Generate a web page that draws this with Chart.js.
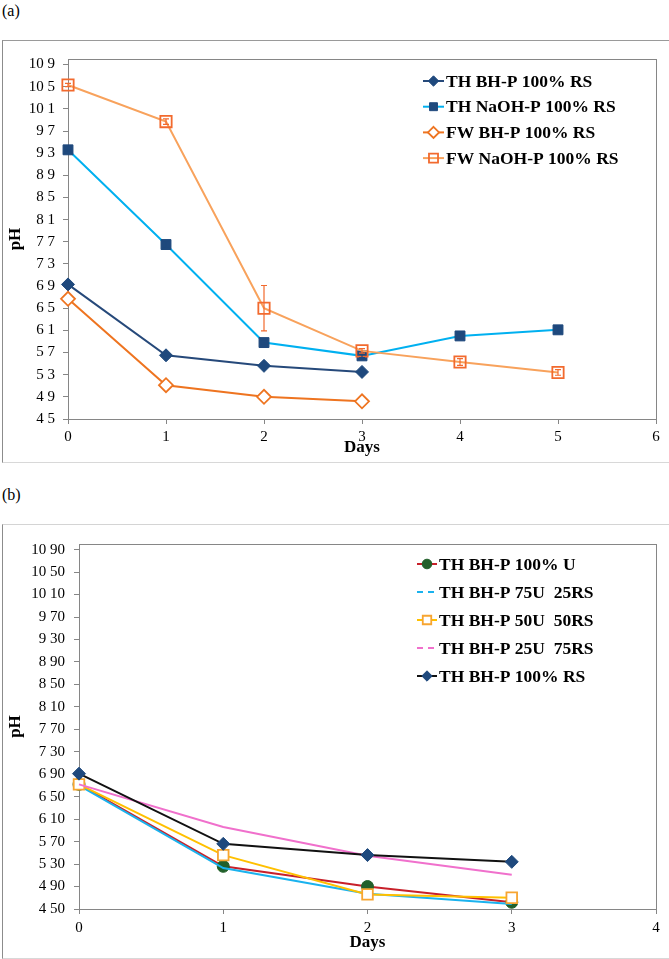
<!DOCTYPE html>
<html>
<head>
<meta charset="utf-8">
<script src="https://cdn.jsdelivr.net/npm/chart.js@4.4.0/dist/chart.umd.min.js"></script>
<style>
  html, body { margin: 0; padding: 0; background: #fff; width: 669px; height: 959px; overflow: hidden; }
  .tag { position: absolute; left: 2px; font: 16px 'Liberation Serif', 'Times New Roman', serif; color: #000; }
  .frame { position: absolute; left: 2px; width: 700px; box-sizing: border-box; background: #fff; }
  canvas { display: block; }
</style>
</head>
<body>
<div class="tag" style="top:2px">(a)</div>
<div class="frame" style="top:40px;height:423px;border-left:1px solid #8c8c8c;border-top:1px solid #9a9a9a;border-bottom:1px solid #d8d8d8">
  <canvas id="chartA" width="666" height="421"></canvas>
</div>
<div class="tag" style="top:486px">(b)</div>
<div class="frame" style="top:524px;height:435px;border-left:1px solid #8c8c8c;border-top:1px solid #d4d4d4;border-bottom:1px solid #d8d8d8">
  <canvas id="chartB" width="666" height="433"></canvas>
</div>

<script>
// --- Données (a) ---
const daysA = [0, 1, 2, 3, 4, 5];
const thBhpRsA = [6.93, 5.65, 5.46, 5.35];
const thNaohRs = [9.36, 7.65, 5.88, 5.64, 6.00, 6.11];
const thNaohErr = [0.02, 0.07, 0.02, 0.03, 0.03, 0.05];
const fwBhpRs = [6.67, 5.11, 4.90, 4.82];
const fwNaohRs = [10.53, 9.87, 6.50, 5.73, 5.53, 5.34];
const fwNaohErr = [0.03, 0.05, 0.41, 0.04, 0.06, 0.05];
const xTicksA = [0, 1, 2, 3, 4, 5, 6];
const yTicksA = [4.5, 4.9, 5.3, 5.7, 6.1, 6.5, 6.9, 7.3, 7.7, 8.1, 8.5, 8.9, 9.3, 9.7, 10.1, 10.5, 10.9];
const yLabelsA = ["4 5", "4 9", "5 3", "5 7", "6 1", "6 5", "6 9", "7 3", "7 7", "8 1", "8 5", "8 9", "9 3", "9 7", "10 1", "10 5", "10 9"];

// --- Données (b) ---
const daysB = [0, 1, 2, 3];
const thBhpU = [6.72, 5.26, 4.90, 4.62];
const thBhp75U = [6.70, 5.23, 4.77, 4.59];
const thBhp50U = [6.72, 5.46, 4.76, 4.70];
const thBhp25U = [6.72, 5.96, 5.45, 5.11];
const thBhpRsB = [6.91, 5.66, 5.46, 5.34];
const xTicksB = [0, 1, 2, 3, 4];
const yTicksB = [4.5, 4.9, 5.3, 5.7, 6.1, 6.5, 6.9, 7.3, 7.7, 8.1, 8.5, 8.9, 9.3, 9.7, 10.1, 10.5, 10.9];
const yLabelsB = ["4 50", "4 90", "5 30", "5 70", "6 10", "6 50", "6 90", "7 30", "7 70", "8 10", "8 50", "8 90", "9 30", "9 70", "10 10", "10 50", "10 90"];

const SERIF = "'Liberation Serif', 'Times New Roman', serif";
Chart.defaults.font.family = SERIF;
Chart.defaults.color = "#000";

const toPoints = (days, vals) => vals.map((v, i) => ({ x: days[i], y: v }));

// dessine un marqueur (losange, carré, rond)
function drawMarker(ctx, style, r, x, y) {
  ctx.beginPath();
  if (style === "circle") {
    ctx.arc(x, y, r, 0, Math.PI * 2);
  } else if (style === "rect") {
    const s = r * Math.SQRT1_2;
    ctx.rect(x - s, y - s, 2 * s, 2 * s);
  } else {
    ctx.moveTo(x, y - r);
    ctx.lineTo(x + r, y);
    ctx.lineTo(x, y + r);
    ctx.lineTo(x - r, y);
    ctx.closePath();
  }
  ctx.fill();
  ctx.stroke();
}

// cadre gris autour de la zone de tracé
const plotBorder = {
  id: "plotBorder",
  beforeDatasetsDraw(chart) {
    const { ctx, chartArea: a } = chart;
    ctx.save();
    ctx.strokeStyle = "#868686";
    ctx.lineWidth = 1;
    ctx.strokeRect(Math.round(a.left) + 0.5, Math.round(a.top) + 0.5, Math.round(a.width), Math.round(a.height));
    ctx.restore();
  },
};

// barres d'erreur
const errorBars = {
  id: "errorBars",
  afterDatasetsDraw(chart) {
    const { ctx } = chart;
    const xs = chart.scales.x, ys = chart.scales.y;
    chart.data.datasets.forEach((ds) => {
      if (!ds.errors) return;
      ctx.save();
      ctx.strokeStyle = ds.pointBorderColor;
      ctx.lineWidth = 1.2;
      ds.data.forEach((p, i) => {
        const e = ds.errors[i];
        if (!e) return;
        const px = xs.getPixelForValue(p.x);
        const t = ys.getPixelForValue(p.y + e);
        const b = ys.getPixelForValue(p.y - e);
        ctx.beginPath();
        ctx.moveTo(px, t); ctx.lineTo(px, b);
        ctx.moveTo(px - 3, t); ctx.lineTo(px + 3, t);
        ctx.moveTo(px - 3, b); ctx.lineTo(px + 3, b);
        ctx.stroke();
      });
      ctx.restore();
    });
  },
};

// légende dans la zone de tracé
const insideLegend = {
  id: "insideLegend",
  afterDraw(chart, args, opts) {
    const { ctx, chartArea: a } = chart;
    ctx.save();
    ctx.font = "bold 17.5px " + SERIF;
    ctx.textBaseline = "middle";
    chart.data.datasets.forEach((ds, i) => {
      const y = a.top + opts.top + i * opts.rowHeight;
      const x0 = a.left + opts.left;
      ctx.strokeStyle = ds.borderColor;
      ctx.lineWidth = 2;
      ctx.setLineDash(ds.legendDash || []);
      ctx.beginPath();
      ctx.moveTo(x0, y);
      ctx.lineTo(x0 + opts.lineLength, y);
      ctx.stroke();
      ctx.setLineDash([]);
      if (ds.pointRadius > 0) {
        ctx.fillStyle = ds.pointBackgroundColor;
        ctx.strokeStyle = ds.pointBorderColor;
        ctx.lineWidth = ds.pointBorderWidth;
        drawMarker(ctx, ds.pointStyle, ds.pointRadius * 0.8, x0 + opts.lineLength / 2, y);
      }
      ctx.fillStyle = "#000";
      ctx.fillText(ds.label, x0 + opts.lineLength + 2, y + 1);
    });
    ctx.restore();
  },
};

function makeChart(id, datasets, cfg) {
  datasets.forEach((ds, i) => {
    ds.order = datasets.length - i;
    ds.clip = false;
    ds.tension = 0;
    ds.fill = false;
  });
  return new Chart(document.getElementById(id), {
    type: "line",
    data: { datasets },
    plugins: [plotBorder, errorBars, insideLegend],
    options: {
      responsive: false,
      animation: false,
      layout: { padding: { left: 0, right: cfg.padRight, top: cfg.padTop, bottom: 0 } },
      plugins: {
        legend: { display: false },
        tooltip: { enabled: false },
        insideLegend: cfg.legend,
      },
      scales: {
        x: {
          type: "linear",
          min: cfg.xTicks[0],
          max: cfg.xTicks[cfg.xTicks.length - 1],
          afterBuildTicks: (s) => { s.ticks = cfg.xTicks.map((v) => ({ value: v })); },
          afterFit: (s) => { s.height = cfg.xHeight; },
          grid: { drawOnChartArea: false, drawTicks: true, tickLength: 5, color: "#868686" },
          border: { display: false },
          ticks: { font: { size: 15 }, color: "#000", padding: cfg.xPad, maxRotation: 0 },
          title: { display: true, text: "Days", font: { size: 17, weight: "bold" }, padding: { top: 0, bottom: cfg.daysPad } },
        },
        y: {
          type: "linear",
          min: 4.5,
          max: 11.0,
          afterBuildTicks: (s) => { s.ticks = cfg.yTicks.map((v) => ({ value: v })); },
          afterFit: (s) => { s.width = cfg.yWidth; },
          grid: { drawOnChartArea: false, drawTicks: true, tickLength: 5, color: "#868686" },
          border: { display: false },
          ticks: { font: { size: 15 }, color: "#000", padding: cfg.yPad, callback: (v, i) => cfg.yLabels[i] },
          title: { display: true, text: "pH", font: { size: 17, weight: "bold" }, padding: { top: 2, bottom: 0 } },
        },
      },
    },
  });
}

const NAVY = "#1F497D";

makeChart("chartA", [
  {
    label: "TH BH-P 100% RS", data: toPoints(daysA, thBhpRsA),
    borderColor: "#26497A", borderWidth: 2,
    pointStyle: "rectRot", pointRadius: 6.5, pointBackgroundColor: NAVY, pointBorderColor: NAVY, pointBorderWidth: 1,
  },
  {
    label: "TH NaOH-P 100% RS", data: toPoints(daysA, thNaohRs), errors: thNaohErr,
    borderColor: "#00B0F0", borderWidth: 2,
    pointStyle: "rect", pointRadius: 7, pointBackgroundColor: NAVY, pointBorderColor: NAVY, pointBorderWidth: 1,
  },
  {
    label: "FW BH-P 100% RS", data: toPoints(daysA, fwBhpRs),
    borderColor: "#EE7420", borderWidth: 2,
    pointStyle: "rectRot", pointRadius: 7, pointBackgroundColor: "#FFFFFF", pointBorderColor: "#EE7420", pointBorderWidth: 1.8,
  },
  {
    label: "FW NaOH-P 100% RS", data: toPoints(daysA, fwNaohRs), errors: fwNaohErr,
    borderColor: "#F8A25C", borderWidth: 2,
    pointStyle: "rect", pointRadius: 8, pointBackgroundColor: "rgba(255,255,255,0)", pointBorderColor: "#F26A2E", pointBorderWidth: 1.8,
  },
], {
  padTop: 18, padRight: 13, xHeight: 43, yWidth: 65, xPad: 4, yPad: 8, daysPad: 4,
  xTicks: xTicksA, yTicks: yTicksA, yLabels: yLabelsA,
  legend: { left: 355, top: 22, rowHeight: 25.7, lineLength: 21 },
});

makeChart("chartB", [
  {
    label: "TH BH-P 100% U", data: toPoints(daysB, thBhpU),
    borderColor: "#C8202A", borderWidth: 2,
    pointStyle: "circle", pointRadius: 6, pointBackgroundColor: "#22602A", pointBorderColor: "#22602A", pointBorderWidth: 1,
  },
  {
    label: "TH BH-P 75U  25RS", data: toPoints(daysB, thBhp75U),
    borderColor: "#1AB2EE", borderWidth: 2, legendDash: [6, 5],
    pointRadius: 0,
  },
  {
    label: "TH BH-P 50U  50RS", data: toPoints(daysB, thBhp50U),
    borderColor: "#FFC000", borderWidth: 2,
    pointStyle: "rect", pointRadius: 7.5, pointBackgroundColor: "#FFFFFF", pointBorderColor: "#F7A531", pointBorderWidth: 1.8,
  },
  {
    label: "TH BH-P 25U  75RS", data: toPoints(daysB, thBhp25U),
    borderColor: "#F070CC", borderWidth: 2, legendDash: [6, 5],
    pointRadius: 0,
  },
  {
    label: "TH BH-P 100% RS", data: toPoints(daysB, thBhpRsB),
    borderColor: "#111111", borderWidth: 2,
    pointStyle: "rectRot", pointRadius: 6.5, pointBackgroundColor: NAVY, pointBorderColor: NAVY, pointBorderWidth: 1,
  },
], {
  padTop: 19, padRight: 13, xHeight: 49, yWidth: 76, xPad: 5, yPad: 9, daysPad: 5,
  xTicks: xTicksB, yTicks: yTicksB, yLabels: yLabelsB,
  legend: { left: 338, top: 20, rowHeight: 28, lineLength: 20 },
});
</script>
</body>
</html>
